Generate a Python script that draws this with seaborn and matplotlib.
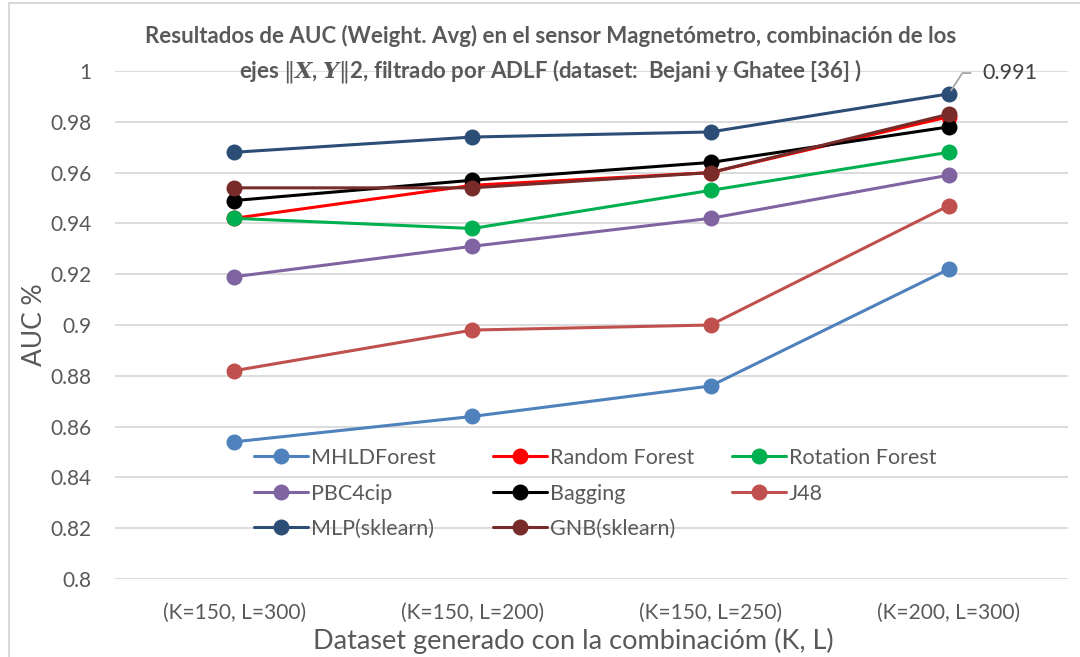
import matplotlib
matplotlib.use("Agg")
import matplotlib.pyplot as plt
import seaborn as sns
import pandas as pd
from matplotlib.lines import Line2D

# ---- data -------------------------------------------------------------
categories = ["(K=150, L=300)", "(K=150, L=200)", "(K=150, L=250)", "(K=200, L=300)"]

models = ["MHLDForest", "Random Forest", "Rotation Forest",
          "PBC4cip", "Bagging", "J48",
          "MLP(sklearn)", "GNB(sklearn)"]

mhldforest = [0.854, 0.864, 0.876, 0.922]
random_forest = [0.942, 0.955, 0.960, 0.982]
rotation_forest = [0.942, 0.938, 0.953, 0.968]
pbc4cip = [0.919, 0.931, 0.942, 0.959]
bagging = [0.949, 0.957, 0.964, 0.978]
j48 = [0.882, 0.898, 0.900, 0.947]
mlp = [0.968, 0.974, 0.976, 0.991]
gnb = [0.954, 0.954, 0.960, 0.983]

colors = ["#4F81BD", "#FF0000", "#00B050",
          "#8064A2", "#000000", "#C0504D",
          "#2C4D75", "#772C2A"]

yticks = [0.8, 0.82, 0.84, 0.86, 0.88, 0.9, 0.92, 0.94, 0.96, 0.98, 1]
ytick_labels = ["0.8", "0.82", "0.84", "0.86", "0.88", "0.9",
                "0.92", "0.94", "0.96", "0.98", "1"]

series = [mhldforest, random_forest, rotation_forest, pbc4cip,
          bagging, j48, mlp, gnb]

rows = []
for name, vals in zip(models, series):
    for cat, v in zip(categories, vals):
        rows.append({"model": name, "combo": cat, "auc": v})
df = pd.DataFrame(rows)
palette = dict(zip(models, colors))

# ---- style ------------------------------------------------------------
sns.set_theme(style="white")
plt.rcParams["font.family"] = ["Lato", "DejaVu Sans"]
plt.rcParams["mathtext.fontset"] = "dejavuserif"
text_color = "#595959"
grid_color = "#D9D9D9"

W, H = 1080, 657
fig = plt.figure(figsize=(W / 100, H / 100), dpi=100)
ax = fig.add_axes([115 / W, (H - 579) / H, (1068 - 115) / W, (579 - 71) / H])

sns.lineplot(data=df, x="combo", y="auc", hue="model", hue_order=models,
             palette=palette, marker="o", markersize=11.5,
             markeredgewidth=0, linewidth=2.2, sort=False,
             legend=False, ax=ax)

ax.set_xlim(-0.5, len(categories) - 0.5)
ax.set_ylim(0.8, 1.0)
ax.set_yticks(yticks)
ax.set_yticklabels(ytick_labels)
ax.yaxis.grid(True, color=grid_color, linewidth=1.3)
ax.set_axisbelow(True)
for s in ax.spines.values():
    s.set_visible(False)
ax.tick_params(axis="y", length=0, pad=17, labelsize=15, labelcolor=text_color)
ax.tick_params(axis="x", length=0, pad=17, labelsize=15, labelcolor=text_color)
ax.set_xlabel("Dataset generado con la combinacióm (K, L)", fontsize=19.5,
              color=text_color)
ax.xaxis.set_label_coords(0.481, -0.097)
ax.set_ylabel("AUC %", fontsize=19, color=text_color, labelpad=2)

# value callout on the last MLP point
ax.annotate(f"{mlp[-1]:.3f}", xy=(len(categories) - 1, mlp[-1]),
            xytext=(24, 15), textcoords="offset points",
            ha="left", va="center", fontsize=15.5, color="#404040",
            arrowprops=dict(arrowstyle="-", color="#A6A6A6", lw=1.3,
                            shrinkA=6, shrinkB=3,
                            connectionstyle="angle,angleA=180,angleB=57,rad=0"))

# legend: three equally spaced columns, filled row by row
handles = [Line2D([0], [0], color=c, lw=2.2, marker="o", markersize=11.5,
                  markeredgewidth=0) for c in colors]
col_x = [254, 493, 732]
for j, x0 in enumerate(col_x):
    idx = list(range(j, len(models), 3))
    leg = fig.legend([handles[i] for i in idx], [models[i] for i in idx],
                     loc="upper left", bbox_to_anchor=(x0 / W, 1 - 448 / H),
                     bbox_transform=fig.transFigure,
                     frameon=False, fontsize=15.5, labelcolor=text_color,
                     handlelength=2.5, handletextpad=0.15,
                     labelspacing=0.72, borderaxespad=0, borderpad=0)

# title
fig.text(551 / W, 1 - 55 / H,
         "Resultados de AUC (Weight. Avg) en el sensor Magnetómetro, combinación de los\n"
         r"ejes $\|\mathbfit{X}$, $\mathbfit{Y}\|$2, filtrado por ADLF (dataset:  Bejani y Ghatee [36] )",
         ha="center", va="center", fontsize=16, fontweight="bold",
         color=text_color, linespacing=1.45)

# chart border
fig.add_artist(Line2D([9 / W, 9 / W], [0, 1 - 3 / H], color=grid_color, lw=1.5))
fig.add_artist(Line2D([9 / W, 1], [1 - 3 / H, 1 - 3 / H], color=grid_color, lw=1.5))

fig.savefig("out.png", dpi=100)
